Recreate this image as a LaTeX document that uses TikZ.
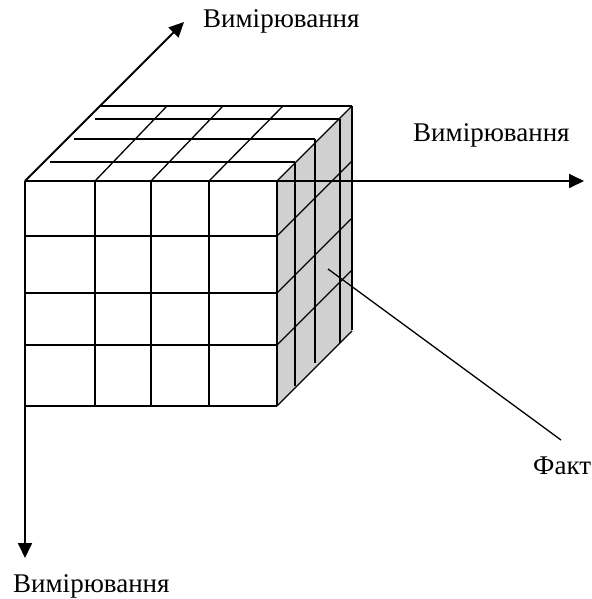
\documentclass[tikz,border=0pt]{standalone}
\usepackage{fontspec}
\setmainfont{Liberation Serif}
\usetikzlibrary{arrows.meta}
\definecolor{cubegrey}{RGB}{208,208,208}
\tikzset{
  axis/.style={-{Triangle[length=15pt,width=14pt]}, line width=1.8pt, draw=black},
  cubeline/.style={line width=1.3pt, draw=black},
  sideface/.style={fill=cubegrey, draw=none},
  pointer/.style={line width=1.3pt, draw=black},
  dimlabel/.style={inner sep=0pt, anchor=base west, font=\fontsize{27}{30}\selectfont}
}

\begin{document}
\begin{tikzpicture}[x=1pt,y=-1pt]
  \useasboundingbox (0,0) rectangle (591,599);

  % grey side of the cube
  \fill[sideface] (277,181) -- (352,106) -- (352,331) -- (277,406) -- cycle;

  % front face
  \foreach \x in {25,95,151,209,277}
    \draw[cubeline] (\x,181) -- (\x,406);
  \foreach \y in {181,236,293,345,406}
    \draw[cubeline] (25,\y) -- (277,\y);

  % top face
  \foreach \x/\dx in {95/72,151/72,209/74,277/75}
    \draw[cubeline] (\x,181) -- ++(\dx,-75);
  \foreach \a/\b/\y in {50/295/162,74/315/139,95/340/119,100/352/106}
    \draw[cubeline] (\a,\y) -- (\b,\y);

  % side face
  \foreach \x/\y in {295/162,315/139,340/119,352/106}
    \draw[cubeline] (\x,\y) -- ++(0,224);
  \foreach \y in {236,293,345,406}
    \draw[cubeline] (277,\y) -- ++(75,-75);

  % axes
  \coordinate (origin) at (25,181);
  \coordinate (depthtip) at (184,22);
  \coordinate (righttip) at (584,181);
  \coordinate (downtip) at (25,558);
  \draw[axis] (origin) -- (depthtip);
  \draw[axis] (origin) -- (righttip);
  \draw[axis] (origin) -- (downtip);

  \node[dimlabel] (dimdepth) at (203,28) {Вимірювання};
  \node[dimlabel] (dimright) at (413,141) {Вимірювання};
  \node[dimlabel] (dimdown) at (13,592) {Вимірювання};

  % fact pointer
  \coordinate (factcell) at (328,269);
  \coordinate (factend) at (561,440);
  \node[dimlabel] (fact) at (533,474) {Факт};
  \draw[pointer] (factcell) -- (factend);
\end{tikzpicture}
\end{document}
